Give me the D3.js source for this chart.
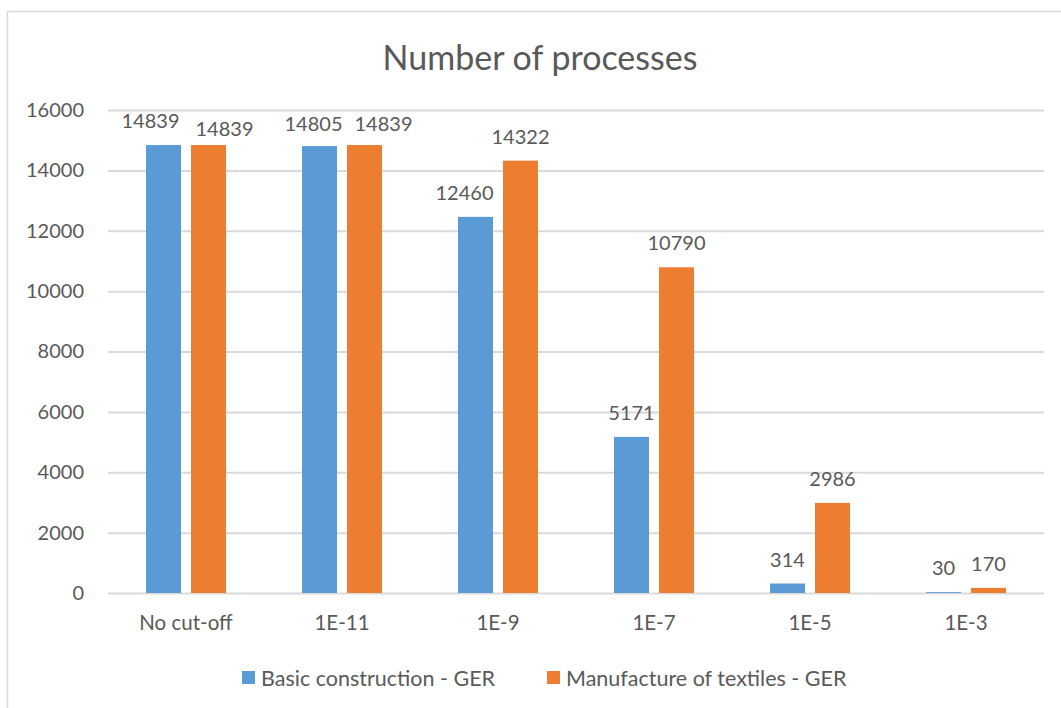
<!DOCTYPE html>
<html>
<head>
<meta charset="utf-8">
<script src="https://cdn.jsdelivr.net/npm/d3@7"></script>
<style>
  html, body { margin: 0; padding: 0; background: #fff; }
  svg { display: block; font-family: Lato, "Open Sans", sans-serif; }
</style>
</head>
<body>
<svg id="chart" width="1061" height="708"></svg>
<script>
// Cut-off thresholds and process counts per product system
const categories = ["No cut-off", "1E-11", "1E-9", "1E-7", "1E-5", "1E-3"];
const seriesNames = ["Basic construction - GER", "Manufacture of textiles - GER"];
const basicConstruction = [14839, 14805, 12460, 5171, 314, 30];
const textiles = [14839, 14839, 14322, 10790, 2986, 170];
const yTicks = [0, 2000, 4000, 6000, 8000, 10000, 12000, 14000, 16000];

const colors = ["#5B9BD5", "#ED7D31"];
const textColor = "#595959";
const gridColor = "#D9D9D9";

// Manual nudges for value labels that would otherwise collide (dx, dy in px)
const labelNudge = {
  "0-0": [-13, 0], "0-1": [16, 8],
  "1-0": [-6, 2], "1-1": [19, 3],
  "2-0": [-11, 0]
};

const svg = d3.select("#chart");
const W = 1061, H = 708;

// chart frame
svg.append("rect")
  .attr("x", 7.5).attr("y", 11.5)
  .attr("width", W + 20).attr("height", H + 20)
  .attr("fill", "#fff").attr("stroke", gridColor).attr("stroke-width", 1.5);

const plot = { left: 108, right: 1044, top: 110, bottom: 593 };

const x = d3.scaleBand().domain(categories).range([plot.left, plot.right]).padding(0);
const y = d3.scaleLinear().domain([0, 16000]).range([plot.bottom, plot.top]);

// two bars of 35px with a 10px gap inside each category
const barW = 35, barGap = 10;
const groupW = 2 * barW + barGap;
const xs = d3.scaleBand().domain([0, 1]).range([0, groupW])
  .paddingInner(barGap / (barW + barGap)).paddingOuter(0);

// title
svg.append("text")
  .attr("x", 540).attr("y", 56)
  .attr("text-anchor", "middle").attr("dominant-baseline", "central")
  .attr("fill", textColor).attr("font-size", 34)
  .text("Number of processes");

// gridlines and value axis
const yAxis = d3.axisLeft(y).tickValues(yTicks).tickSize(-(plot.right - plot.left)).tickPadding(24).tickFormat(d3.format("d"));
const gAxis = svg.append("g").attr("transform", `translate(${plot.left},0)`).call(yAxis);
gAxis.select(".domain").remove();
gAxis.selectAll(".tick line").attr("stroke", gridColor).attr("stroke-width", 2);
gAxis.selectAll(".tick text").attr("fill", textColor).attr("font-size", 20).attr("font-family", "Lato, sans-serif");

// category axis labels
const xAxis = d3.axisBottom(x).tickSize(0).tickPadding(22);
const gX = svg.append("g").attr("transform", `translate(0,${plot.bottom})`).call(xAxis);
gX.select(".domain").remove();
gX.selectAll(".tick text").attr("fill", textColor).attr("font-size", 20.5).attr("font-family", "Lato, sans-serif");

// bars
const data = categories.map((c, i) => ({ cat: c, vals: [basicConstruction[i], textiles[i]] }));
const groupOffset = (x.bandwidth() - groupW) / 2;

const groups = svg.append("g").selectAll("g").data(data).join("g")
  .attr("transform", d => `translate(${x(d.cat) + groupOffset},0)`);

groups.selectAll("rect").data((d, ci) => d.vals.map((v, si) => ({ v, si, ci }))).join("rect")
  .attr("x", d => xs(d.si))
  .attr("width", xs.bandwidth())
  .attr("y", d => y(d.v))
  .attr("height", d => y(0) - y(d.v))
  .attr("fill", d => colors[d.si]);

// value labels
const nudge = d => labelNudge[d.ci + "-" + d.si] || [0, 0];
groups.selectAll("text").data((d, ci) => d.vals.map((v, si) => ({ v, si, ci }))).join("text")
  .attr("x", d => xs(d.si) + xs.bandwidth() / 2 + nudge(d)[0])
  .attr("y", d => y(d.v) - 25 + nudge(d)[1])
  .attr("text-anchor", "middle").attr("dominant-baseline", "central")
  .attr("fill", textColor).attr("font-size", 20)
  .text(d => d.v);

// legend
const legend = svg.append("g");
const legendX = [242, 547];
seriesNames.forEach((name, i) => {
  legend.append("rect").attr("x", legendX[i]).attr("y", 671).attr("width", 13).attr("height", 13).attr("fill", colors[i]);
  legend.append("text").attr("x", legendX[i] + 19).attr("y", 678)
    .attr("dominant-baseline", "central").attr("fill", textColor).attr("font-size", 21.5)
    .text(name);
});
</script>
</body>
</html>
